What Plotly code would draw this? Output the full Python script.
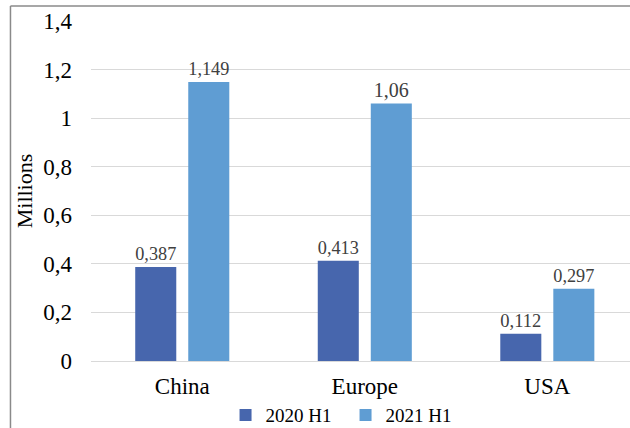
import plotly.graph_objects as go

regions = ["China", "Europe", "USA"]
h1_2020 = [0.387, 0.413, 0.112]
h1_2021 = [1.149, 1.06, 0.297]
series_names = ["2020 H1", "2021 H1"]
y_ticks = [0, 0.2, 0.4, 0.6, 0.8, 1.0, 1.2, 1.4]

FONT = "Liberation Serif"
colors = ["#4766ad", "#5f9dd3"]


def fmt(v):
    return f"{v:g}".replace(".", ",")


fig = go.Figure()
for name, vals, col in zip(series_names, [h1_2020, h1_2021], colors):
    fig.add_trace(go.Bar(
        x=regions, y=vals, name=name,
        marker=dict(color=col, line=dict(width=0)),
        text=[fmt(v) for v in vals], textposition="outside",
        textfont=dict(family=FONT, size=20, color="#404040"),
        cliponaxis=False,
    ))

# outer frame (left and top edges visible)
fig.add_shape(type="line", xref="paper", yref="paper",
              x0=-0.1494, x1=-0.1494, y0=-0.3, y1=1.0441,
              line=dict(color="#8a8a8a", width=1.5))
fig.add_shape(type="line", xref="paper", yref="paper",
              x0=-0.1494, x1=1.2, y0=1.0441, y1=1.0441,
              line=dict(color="#8a8a8a", width=1.5))

fig.update_layout(
    width=630, height=428,
    margin=dict(l=91, r=0, t=21, b=67, autoexpand=False),
    paper_bgcolor="white", plot_bgcolor="white",
    separators=",.",
    barmode="group", bargap=0.419, bargroupgap=0.226,
    font=dict(family=FONT, color="#000000"),
    showlegend=True,
    legend=dict(orientation="h", xref="container", yref="container",
                x=0.358, xanchor="left", y=0.03, yanchor="middle",
                bgcolor="rgba(0,0,0,0)",
                font=dict(family=FONT, size=19, color="#000000"),
                entrywidth=75, tracegroupgap=0),
    xaxis=dict(range=[-0.5, 2.453], showgrid=False, showline=False, ticks="",
               automargin=False,
               tickfont=dict(family=FONT, size=23, color="#000000"),
               ticklabelstandoff=9),
    yaxis=dict(range=[0, 1.4], tickvals=y_ticks, showgrid=True, gridcolor="#d9d9d9",
               gridwidth=1.3, zeroline=True, zerolinecolor="#d9d9d9", zerolinewidth=1.3,
               showline=False, ticks="", automargin=False,
               tickfont=dict(family=FONT, size=23, color="#000000"),
               ticklabelstandoff=18,
               title=dict(text="Millions", font=dict(family=FONT, size=22, color="#000000"),
                          standoff=4)),
)

fig.write_html("out.html")
